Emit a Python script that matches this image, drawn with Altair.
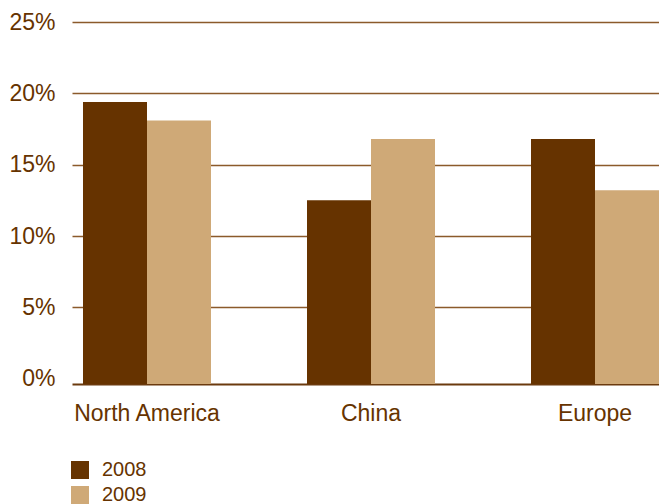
import altair as alt
import pandas as pd

regions = ["North America", "China", "Europe"]
years = ["2008", "2009"]
values_2008 = [19.4, 12.5, 16.8]
values_2009 = [18.1, 16.8, 13.2]
colors = ["#663300", "#CFA977"]
y_ticks = [0, 5, 10, 15, 20, 25]

rows = []
for r, a, b in zip(regions, values_2008, values_2009):
    rows.append({"region": r, "year": "2008", "value": a})
    rows.append({"region": r, "year": "2009", "value": b})
df = pd.DataFrame(rows)

brown = "#663300"
grid = "#8B5A2B"
font = "Liberation Sans"
y_min = -0.37

chart = alt.Chart(df).mark_bar().encode(
    x=alt.X("region:N", sort=regions,
            scale=alt.Scale(paddingInner=0.4286, paddingOuter=0.02455, align=1),
            axis=alt.Axis(title=None, labelAngle=0, ticks=False, domain=True,
                          domainColor="#6B3A0E", domainWidth=2,
                          labelFontSize=23, labelColor=brown, labelPadding=18,
                          labelFont=font)),
    xOffset=alt.XOffset("year:N", sort=years, scale=alt.Scale(paddingInner=0, paddingOuter=0)),
    y=alt.Y("value:Q", scale=alt.Scale(domain=[y_min, 25], nice=False, zero=False),
            axis=alt.Axis(title=None, values=y_ticks,
                          labelExpr="datum.value + '%'", ticks=False, domain=False,
                          gridColor=grid, gridWidth=1.5,
                          gridOpacity={"condition": {"test": "datum.value === 0", "value": 0}, "value": 1},
                          labelFontSize=23, labelColor=brown, labelPadding=17,
                          labelFont=font)),
    y2=alt.Y2(datum=y_min),
    color=alt.Color("year:N", sort=years,
                    scale=alt.Scale(domain=years, range=colors),
                    legend=alt.Legend(title=None, orient="none", legendX=-2, legendY=438,
                                      symbolType="square", symbolSize=324,
                                      symbolStrokeWidth=0, symbolOpacity=1,
                                      labelFontSize=20, labelColor=brown,
                                      labelFont=font, labelOffset=12,
                                      rowPadding=5, padding=0)),
).properties(
    width=587,
    height=362,
    autosize=alt.AutoSizeParams(type="none"),
    padding={"left": 64, "top": 14, "right": 0, "bottom": 120},
    background="white",
).configure_view(stroke=None)

chart.save("out.html", embed_options={"renderer": "svg", "actions": False})
